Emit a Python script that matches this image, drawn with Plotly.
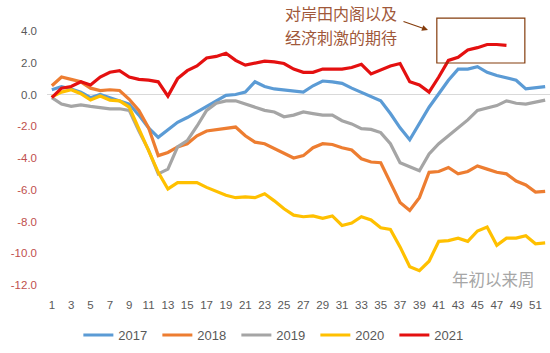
import plotly.graph_objects as go

weeks = list(range(1, 53))
s2017 = [0.3, 0.5, 0.35, 0.15, -0.2, 0.0, -0.2, -0.4, -0.6, -1.3, -2.1, -2.7, -2.2, -1.75, -1.45, -1.1, -0.7, -0.4, -0.05, 0.0,
         0.15, 0.8, 0.5, 0.35, 0.3, 0.25, 0.15, 0.55, 0.85, 0.8, 0.7, 0.4, 0.15, -0.1, -0.4, -1.2, -2.1, -2.85, -1.85, -0.8,
         0.05, 0.9, 1.6, 1.6, 1.75, 1.4, 1.2, 1.05, 0.9, 0.35, 0.4, 0.5]
s2018 = [0.55, 1.1, 0.95, 0.8, 0.4, 0.25, 0.3, 0.25, -0.3, -1.0, -2.1, -3.85, -3.65, -3.3, -3.1, -2.6, -2.3, -2.2, -2.15, -2.05,
         -2.6, -3.0, -3.1, -3.4, -3.7, -4.0, -3.85, -3.35, -3.1, -3.15, -3.35, -3.5, -4.05, -4.25, -4.3, -5.5, -6.8, -7.3, -6.5, -4.9,
         -4.85, -4.6, -5.0, -4.85, -4.5, -4.7, -4.9, -5.0, -5.45, -5.7, -6.15, -6.1]
s2019 = [-0.2, -0.6, -0.75, -0.65, -0.75, -0.85, -0.9, -0.9, -1.0, -2.3, -3.5, -5.0, -4.7, -3.3, -2.9, -2.0, -1.0, -0.55, -0.4, -0.4,
         -0.6, -0.85, -1.0, -1.1, -1.4, -1.3, -1.1, -1.2, -1.3, -1.3, -1.65, -1.85, -2.15, -2.2, -2.4, -3.1, -4.3, -4.55, -4.8, -3.75,
         -3.1, -2.6, -2.1, -1.6, -1.0, -0.85, -0.7, -0.4, -0.55, -0.6, -0.5, -0.35]
s2020 = [-0.15, 0.15, 0.3, 0.05, -0.35, -0.1, -0.35, -0.4, -0.8, -2.2, -3.6, -4.9, -5.95, -5.55, -5.55, -5.55, -5.85, -6.1, -6.35, -6.5,
         -6.45, -6.5, -6.25, -6.7, -7.2, -7.6, -7.7, -7.65, -7.8, -7.65, -8.25, -8.1, -7.7, -7.9, -8.4, -8.5, -9.6, -10.85, -11.1, -10.5,
         -9.25, -9.2, -9.05, -9.25, -8.6, -8.35, -9.5, -9.05, -9.05, -8.9, -9.4, -9.35]
s2021 = [-0.2, 0.4, 0.5, 0.8, 0.6, 1.1, 1.4, 1.5, 1.1, 0.95, 0.9, 0.8, -0.1, 1.0, 1.5, 1.8, 2.3, 2.4, 2.6, 2.15,
         1.85, 2.0, 2.1, 2.05, 1.95, 1.6, 1.4, 1.4, 1.6, 1.6, 1.6, 1.7, 1.9, 1.3, 1.55, 1.8, 1.95, 0.8, 0.6, 0.15,
         1.1, 2.15, 2.35, 2.8, 2.95, 3.15, 3.15, 3.1]

series_names = ["2017", "2018", "2019", "2020", "2021"]
series_vals = [s2017, s2018, s2019, s2020, s2021]
colors = ["#5B9BD5", "#ED7D31", "#A5A5A5", "#FFC000", "#E41010"]

x_tickvals = list(range(1, 52, 2))
y_tickvals = [4, 2, 0, -2, -4, -6, -8, -10, -12]

callout_lines = ["对岸田内阁以及", "经济刺激的期待"]
axis_note = "年初以来周"

FONT = "Liberation Sans, Arial, Noto Sans CJK SC"

fig = go.Figure()
for name, vals, col in zip(series_names, series_vals, colors):
    fig.add_trace(go.Scatter(x=weeks[:len(vals)], y=vals, mode="lines", name=name,
                             line=dict(color=col, width=3.2)))

ytext = []
for v in y_tickvals:
    if v < 0:
        ytext.append('<span style="color:#C0504D">%.1f</span>' % v)
    else:
        ytext.append("%.1f" % v)

fig.update_layout(
    width=550, height=353,
    margin=dict(l=47, r=0, t=31, b=68),
    paper_bgcolor="white", plot_bgcolor="white",
    font=dict(family=FONT, color="#595959", size=11),
    showlegend=True,
    legend=dict(orientation="h", x=0.455, xanchor="center", y=-0.197, yanchor="middle",
                font=dict(size=13, color="#595959"), itemwidth=30, tracegroupgap=0,
                entrywidth=34, entrywidthmode="pixels"),
    xaxis=dict(range=[0.5, 52.5], tickmode="array", tickvals=x_tickvals,
               ticktext=[str(v) for v in x_tickvals], showgrid=False, zeroline=False,
               showline=False, ticks="", tickfont=dict(size=11.5, color="#595959"),
               ticklabelstandoff=11),
    yaxis=dict(range=[-12, 4], tickmode="array", tickvals=y_tickvals, ticktext=ytext,
               showgrid=False, zeroline=True, zerolinecolor="#D9D9D9", zerolinewidth=1.2,
               showline=False, ticks="", tickfont=dict(size=11.5, color="#595959"),
               ticklabelstandoff=9),
)

# callout box
fig.add_shape(type="rect", xref="paper", yref="paper", x0=0.775, x1=0.950, y0=0.874, y1=1.051,
              line=dict(color="#843C0C", width=1.2), fillcolor="rgba(0,0,0,0)")
for i, line in enumerate(callout_lines):
    fig.add_annotation(xref="paper", yref="paper", x=0.469, y=1 + (18 - 24 * i) / 254,
                       xanchor="left", yanchor="middle", text=line, showarrow=False,
                       font=dict(family="Noto Sans CJK SC", size=16, color="#A0583A"))
fig.add_annotation(xref="paper", yref="paper", x=(428 - 47) / 503, y=1 + 1 / 254, text="",
                   showarrow=True, arrowhead=2, arrowsize=1, arrowwidth=1.2, arrowcolor="#843C0C",
                   axref="pixel", ayref="pixel", ax=-26, ay=-9)
fig.add_annotation(xref="paper", yref="paper", x=0.974, y=0.024, xanchor="right", yanchor="middle",
                   text=axis_note, showarrow=False,
                   font=dict(family="Noto Sans CJK SC", size=16.5, color="#A6A6A6"))

fig.write_html("out.html")
